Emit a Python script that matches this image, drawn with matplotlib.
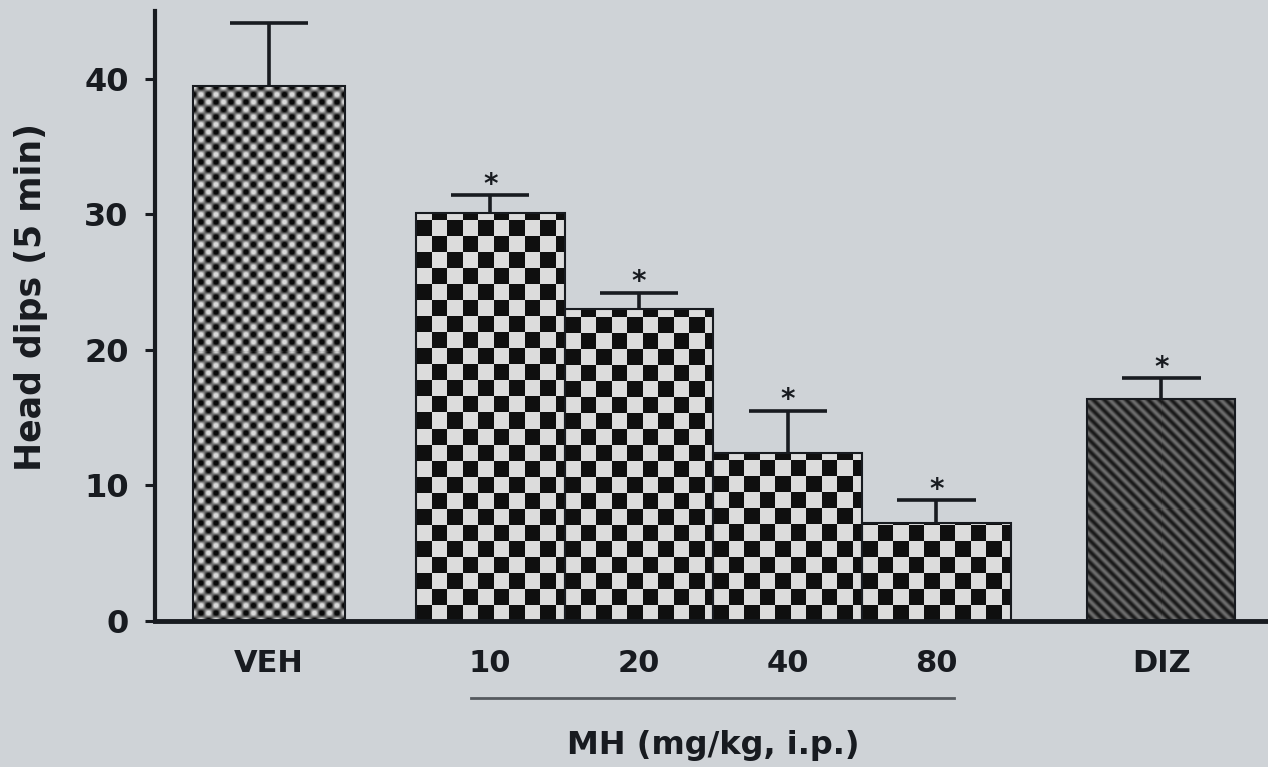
import numpy as np
import matplotlib
matplotlib.use("Agg")
import matplotlib.pyplot as plt

# values
groups = ["VEH", "10", "20", "40", "80", "DIZ"]
head_dips = [39.5, 30.1, 23.0, 12.4, 7.2, 16.4]
sem = [4.6, 1.3, 1.2, 3.1, 1.7, 1.5]
signif = [False, True, True, True, True, True]
yticks = [0, 10, 20, 30, 40]
dose_label = "MH (mg/kg, i.p.)"
ylabel = "Head dips (5 min)"

# layout, x in units of one bar width
xpos = np.array([0.77, 2.265, 3.27, 4.275, 5.28, 6.8])
widths = [1.03, 1.005, 1.005, 1.005, 1.005, 1.0]
fills = ["fine", "check", "check", "check", "check", "diag"]

BG = "#cfd3d7"
INK = "#181b20"

plt.rcParams["font.family"] = "DejaVu Sans"
plt.rcParams["font.weight"] = "bold"


def texture(kind, w, h):
    # grey level pattern in screen pixels, row 0 at the bar bottom
    yy, xx = np.mgrid[0:h, 0:w].astype(float)
    if kind == "fine":
        v = np.cos(np.pi * xx / 7.5) * np.cos(np.pi * yy / 7.5)
        return np.clip(0.42 - 0.55 * v, 0.04, 0.85)
    if kind == "check":
        c = (np.floor(xx / 15.5) + np.floor(yy / 16.0)) % 2
        return np.where(c == 1, 0.86, 0.06)
    v = np.cos(2 * np.pi * (xx + yy) / 11.0)
    return 0.26 + 0.16 * v


fig = plt.figure(figsize=(12.68, 7.67), dpi=100, facecolor=BG)
ax = fig.add_axes([155 / 1268, 1 - 621 / 767, 1 - 155 / 1268, 610 / 767])
ax.set_facecolor(BG)
ax.set_xlim(0, 7.52)
ax.set_ylim(0, 45)

bars = ax.bar(xpos, head_dips, width=widths, facecolor="none",
              edgecolor=INK, linewidth=1.5, zorder=3)

for bar, kind in zip(bars, fills):
    bb = bar.get_window_extent()
    w, h = int(round(bb.width)), int(round(bb.height))
    x0 = bar.get_x()
    img = ax.imshow(texture(kind, w, h), cmap="gray", vmin=0, vmax=1,
                    extent=(x0, x0 + bar.get_width(), 0, bar.get_height()),
                    origin="lower", aspect="auto", interpolation="nearest",
                    zorder=2)
    img.set_clip_path(bar)

# upper error bars only
tops = np.array(head_dips) + np.array(sem)
ax.vlines(xpos, head_dips, tops, color=INK, lw=2.6, zorder=4)
ax.hlines(tops, xpos - 0.264, xpos + 0.264, color=INK, lw=2.6, zorder=4)

for x, t, s in zip(xpos, tops, signif):
    if s:
        ax.annotate("*", (x, t), xytext=(0, 2), textcoords="offset points",
                    ha="center", va="baseline", fontsize=20,
                    fontweight="bold", color=INK)

ax.spines["top"].set_visible(False)
ax.spines["right"].set_visible(False)
ax.spines["left"].set_linewidth(3)
ax.spines["bottom"].set_linewidth(3.5)
ax.spines["left"].set_color(INK)
ax.spines["bottom"].set_color(INK)
ax.spines["bottom"].set_zorder(5)

ax.set_yticks(yticks)
ax.tick_params(axis="y", length=7, width=2.2, pad=12, labelsize=23,
               colors=INK)
ax.set_xticks(xpos, groups)
ax.tick_params(axis="x", length=0, pad=20, labelsize=22, colors=INK)

fig.text(31 / 1268, 1 - 297 / 767, ylabel, rotation=90, ha="center",
         va="center", fontsize=25, fontweight="bold", color=INK)

# dose group underline and label
ax.plot([xpos[1] - 0.13, xpos[4] + 0.12], [-5.68, -5.68], clip_on=False,
        color="#55595e", lw=2)
ax.text(xpos[1:5].mean(), -9.15, dose_label, ha="center", va="center",
        fontsize=23, fontweight="bold", color=INK, clip_on=False)

fig.savefig("out.png", dpi=100, facecolor=BG)
